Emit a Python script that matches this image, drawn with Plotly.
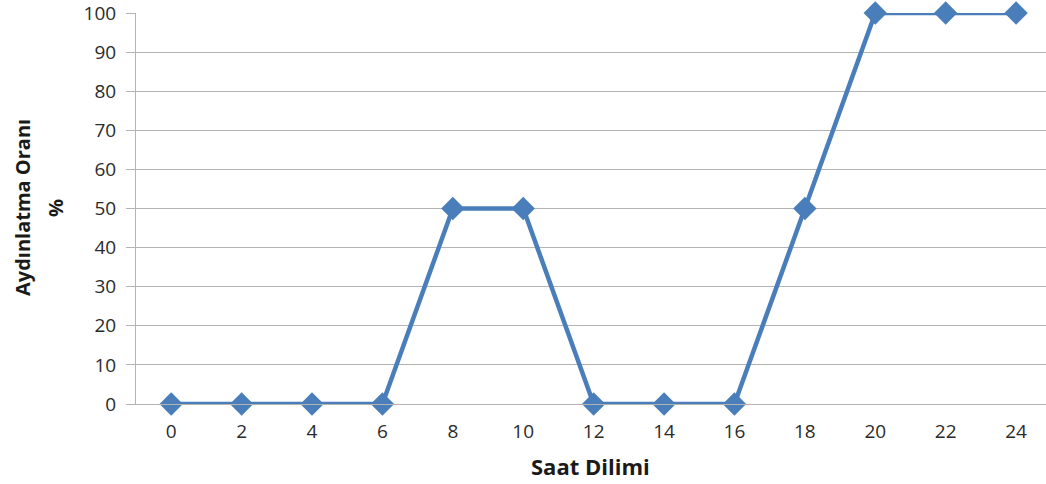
import plotly.graph_objects as go

hours = [0, 2, 4, 6, 8, 10, 12, 14, 16, 18, 20, 22, 24]
ratio = [0, 0, 0, 0, 50, 50, 0, 0, 0, 50, 100, 100, 100]
y_ticks = [0, 10, 20, 30, 40, 50, 60, 70, 80, 90, 100]

W, H = 1046, 484
L, R, T, B = 136, 0, 13, 80
PW, PH = W - L - R, H - T - B
font_fam = "Open Sans"


def px_x(sx):
    return (sx - L) / PW


def px_y(sy):
    return 1 - (sy - T) / PH


fig = go.Figure()
fig.add_trace(go.Scatter(
    x=hours, y=ratio, mode="lines+markers",
    line=dict(color="#4a7ebb", width=4.5),
    marker=dict(symbol="diamond", size=18, color="#4a7ebb"),
    showlegend=False, cliponaxis=False, hoverinfo="skip",
))

fig.update_layout(
    width=W, height=H,
    margin=dict(l=L, r=R, t=T, b=B, pad=0, autoexpand=False),
    paper_bgcolor="white", plot_bgcolor="white",
    font=dict(family=font_fam, size=19, color="#2b2b2b"),
    xaxis=dict(
        range=[-1, 24.85], tickvals=hours, ticktext=[str(h) for h in hours],
        showgrid=False, zeroline=False, showline=True, linecolor="#b3b3b3", linewidth=1,
        ticks="", ticklabelstandoff=10, automargin=False, ticklabeloverflow="allow",
    ),
    yaxis=dict(
        range=[0, 100], tickvals=y_ticks, showgrid=True, gridcolor="#b3b3b3", gridwidth=1,
        zeroline=False, showline=True, linecolor="#b3b3b3", linewidth=1,
        ticks="outside", ticklen=9, tickcolor="#b3b3b3", ticklabelstandoff=6,
        automargin=False, ticklabeloverflow="allow",
    ),
    annotations=[
        dict(text="<b>Aydınlatma Oranı</b>", textangle=-90,
             xref="paper", yref="paper", x=px_x(22), y=px_y(208),
             xanchor="center", yanchor="middle", showarrow=False,
             font=dict(size=20, color="#1a1a1a")),
        dict(text="<b>%</b>", textangle=-90,
             xref="paper", yref="paper", x=px_x(55), y=px_y(208),
             xanchor="center", yanchor="middle", showarrow=False,
             font=dict(size=20, color="#1a1a1a")),
        dict(text="<b>Saat Dilimi</b>",
             xref="paper", yref="paper", x=px_x(590), y=px_y(466),
             xanchor="center", yanchor="middle", showarrow=False,
             font=dict(size=22, color="#1a1a1a")),
    ],
)

fig.write_html(
    "out.html",
    config={"displayModeBar": False, "staticPlot": True},
    post_script="document.body.style.margin='0';document.body.style.overflow='hidden';",
)
